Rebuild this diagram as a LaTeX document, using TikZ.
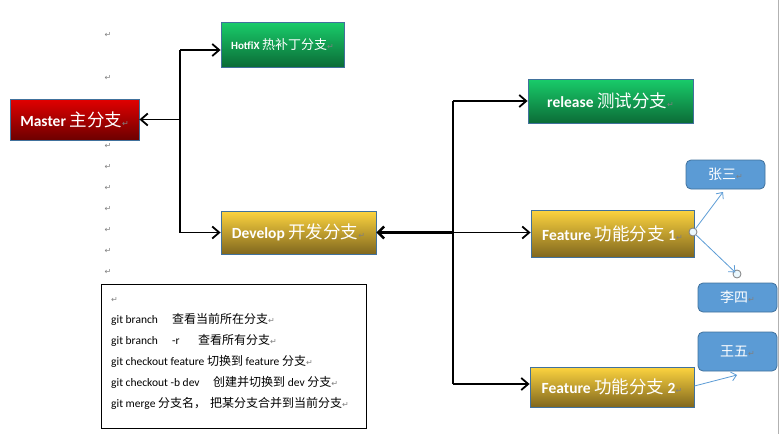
\documentclass[tikz,border=0pt]{standalone}
\usepackage{fontspec}
\setmainfont{Carlito}
\newfontfamily\cjk{Noto Sans CJK SC}
\newfontfamily\sym{DejaVu Sans}
\usepackage{xcolor}
\usepackage{tikz}
\usetikzlibrary{arrows.meta,positioning}

\definecolor{boxedge}{HTML}{41719C}
\definecolor{redtop}{HTML}{E20000}
\definecolor{redbot}{HTML}{6C0000}
\definecolor{greentop}{HTML}{19CC6A}
\definecolor{greenbot}{HTML}{0B6C37}
\definecolor{goldtop}{HTML}{FDD43F}
\definecolor{goldbot}{HTML}{80671E}
\definecolor{namefill}{HTML}{5B9BD5}

% Chinese text and Word return marks
\newcommand{\zh}[2][17.5]{{\cjk\mdseries\fontsize{#1}{21}\selectfont #2}}
\newcommand{\rmk}{{\sym\mdseries\fontsize{8}{8}\selectfont\color{gray}↵}}

\begin{document}
\begin{tikzpicture}[
    x=1pt, y=-1pt,
    branch/.style={draw=boxedge, line width=0.8pt, text=white, inner sep=0pt,
        font=\bfseries\fontsize{15.5}{17}\selectfont},
    master/.style={branch, top color=redtop, bottom color=redbot},
    greenbox/.style={branch, top color=greentop, bottom color=greenbot},
    goldbox/.style={branch, top color=goldtop, bottom color=goldbot},
    namebox/.style={draw=boxedge, line width=0.8pt, fill=namefill, rounded corners=5pt,
        text=white, inner sep=0pt, minimum width=79pt},
    dot/.style={circle, draw=gray, fill=cyan!8, line width=0.8pt, minimum size=8pt, inner sep=0pt},
    retmark/.style={inner sep=0pt},
    arr/.style={line width=1.8pt, -{Straight Barb[length=7pt,width=12pt,line width=1.8pt]}},
    bigarr/.style={line width=3.2pt, -{Straight Barb[length=6pt,width=12pt,line width=2.4pt]}},
    bluearr/.style={namefill, line width=0.8pt, -{Straight Barb[length=5pt,width=9pt,line width=0.8pt]}}
]
\useasboundingbox (0,0) rectangle (780,434);

% page edge
\draw[gray!60, line width=1.5pt] (778.5,0) -- (778.5,434);

% loose return marks
\node[retmark] (m1) at (108,35) {\rmk};
\node[retmark] (m2) at (108,78) {\rmk};
\node[retmark] (m3) at (108,146) {\rmk};
\node[retmark] (m4) at (108,167) {\rmk};
\node[retmark] (m5) at (108,188) {\rmk};
\node[retmark] (m6) at (108,209) {\rmk};
\node[retmark] (m7) at (108,230) {\rmk};
\node[retmark] (m8) at (108,251) {\rmk};
\node[retmark] (m9) at (108,272) {\rmk};

% branches
\node[master, minimum width=129pt, minimum height=41pt] (mst) at (74.5,119.5) {Master \zh{主分支}\rmk};
\node[greenbox, minimum width=123pt, minimum height=45pt, font=\bfseries\fontsize{11}{13}\selectfont] (hot) at (282.5,44.5) {HotfiX \zh[13]{热补丁分支}\rmk};
\node[goldbox, minimum width=155pt, minimum height=43pt] (dev) at (298.5,232.5) {Develop \zh{开发分支}\rmk};
\node[greenbox, minimum width=165pt, minimum height=44pt] (rel) at (610.5,101) {release \zh{测试分支}\rmk};
\node[goldbox, minimum width=163pt, minimum height=47pt] (fe1) at (612.5,233.5) {Feature \zh{功能分支} 1\rmk};
\node[goldbox, minimum width=164pt, minimum height=40pt] (fe2) at (612,387) {Feature \zh{功能分支} 2\rmk};

% developers
\node[namebox, minimum height=29pt] (zs) at (725.5,174.5) {\zh[14]{张三}\rmk};
\node[namebox, minimum height=29pt] (ls) at (737.5,297.5) {\zh[14]{李四}\rmk};
\node[namebox, minimum height=39pt] (ww) at (737.5,351.5) {\zh[14]{王五}\rmk};

% master side
\coordinate (hj) at (180,50);
\coordinate (mj) at (180,119.5);
\coordinate (dj) at (180,232.5);
\draw[line width=1.8pt] (hj) -- (dj);
\draw[arr] (hj) -- (hj -| hot.west);
\draw[arr] (mj) -- (mst.east);
\draw[arr] (dj) -- (dev.west);

% develop side
\coordinate (rj) at (453,101);
\coordinate (vj) at (453,232.5);
\coordinate (fj) at (453,384);
\draw[line width=1.8pt] (rj) -- (fj);
\draw[arr] (rj) -- (rel.west);
\draw[bigarr] (vj) -- (dev.east);
\draw[arr] (vj) -- (vj -| fe1.west);
\draw[arr] (fj) -- (fj -| fe2.west);

% feature to developers
\node[dot] (d1) at (693,232) {};
\node[dot] (d2) at (737,274) {};
\coordinate (zt) at (723,192);
\coordinate (wt) at (737,375);
\draw[bluearr] (d1) -- (zt);
\draw[bluearr, shorten >=-2pt] (d1) -- (d2);
\draw[bluearr] (fe2.east) ++(0,-1) coordinate (f2e) -- (wt);

% command notes
\node[draw, line width=1pt, minimum width=265pt, minimum height=144pt] (notes) at (233.5,356) {};
\node[anchor=north west, align=left, inner sep=0pt, font=\fontsize{11.5}{21}\selectfont] (cmds) at (111,297) {%
\rmk\\
\makebox[61pt][l]{git branch}\zh[12]{查看当前所在分支}\rmk\\
\makebox[61pt][l]{git branch}\makebox[26pt][l]{-r}\zh[12]{查看所有分支}\rmk\\
git checkout feature \zh[12]{切换到} feature \zh[12]{分支}\rmk\\
\makebox[102pt][l]{git checkout -b dev}\zh[12]{创建并切换到} dev \zh[12]{分支}\rmk\\
git merge \zh[12]{分支名，}\hspace{4pt}\zh[12]{把某分支合并到当前分支}\rmk};

\end{tikzpicture}
\end{document}
